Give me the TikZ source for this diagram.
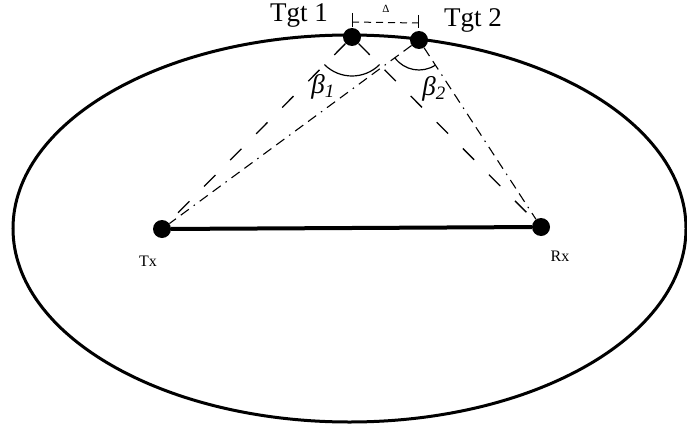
\documentclass[tikz,border=0pt]{standalone}
\usepackage{fontspec}
\setmainfont{Liberation Serif}

\begin{document}
\begin{tikzpicture}[x=1pt, y=-1pt,
		dot/.style={circle, fill=black, inner sep=0pt, minimum size=18pt},
		longdash/.style={line width=1.3pt, dash pattern=on 16pt off 21pt},
		dashdot/.style={line width=1.1pt, dash pattern=on 10pt off 6pt on 10pt off 6pt on 1.5pt off 6pt},
		anglearc/.style={line width=1.2pt},
		big/.style={font=\fontsize{27}{30}\selectfont},
		small/.style={font=\fontsize{16}{18}\selectfont}]
					\useasboundingbox (0,0) rectangle (687,428);
					
					\draw[line width=3pt] (349.5,228.5) ellipse [x radius=336.5pt, y radius=193.5pt];
					
					\node[dot] (tgtA) at (352,37) {};
					\node[dot] (tgtB) at (419,40) {};
					\node[dot] (tx) at (162,229) {};
					\node[dot] (rx) at (541,227) {};
					
					\draw[line width=4pt] (tx) -- (rx);
					
					\draw[longdash] (tgtA) -- (tx);
					\draw[longdash] (tgtA) -- (rx);
					\draw[dashdot] (tgtB) -- (tx);
					\draw[dashdot] (tgtB) -- (rx);
					
					\draw[anglearc] (tgtA.center) ++(45:39) arc[start angle=45, end angle=135, radius=39];
					\draw[anglearc] (tgtB.center) ++(57:30) arc[start angle=57, end angle=144, radius=30];
					
					\coordinate (dimA) at (352,22);
					\coordinate (dimB) at (418,23);
					\draw[line width=1pt] (352,13) -- (352,27);
					\draw[line width=1pt] (418,15) -- (418,28);
					\draw[line width=1pt, dash pattern=on 7pt off 5pt] (dimA) -- (dimB);
					\node[font=\fontsize{11}{12}\selectfont] (delta) at (386,9) {Δ};
					
					\node[big, anchor=base] (labA) at (299,22) {Tgt 1};
					\node[big, anchor=base] (labB) at (473,27) {Tgt 2};
					\node[big] (betaA) at (323,87) {\itshape β\textsubscript{1}};
					\node[big] (betaB) at (434,89) {\itshape β\textsubscript{2}};
					\node[small] (labTx) at (148,261) {Tx};
					\node[small] (labRx) at (560,256) {Rx};
				\end{tikzpicture}
\end{document}
